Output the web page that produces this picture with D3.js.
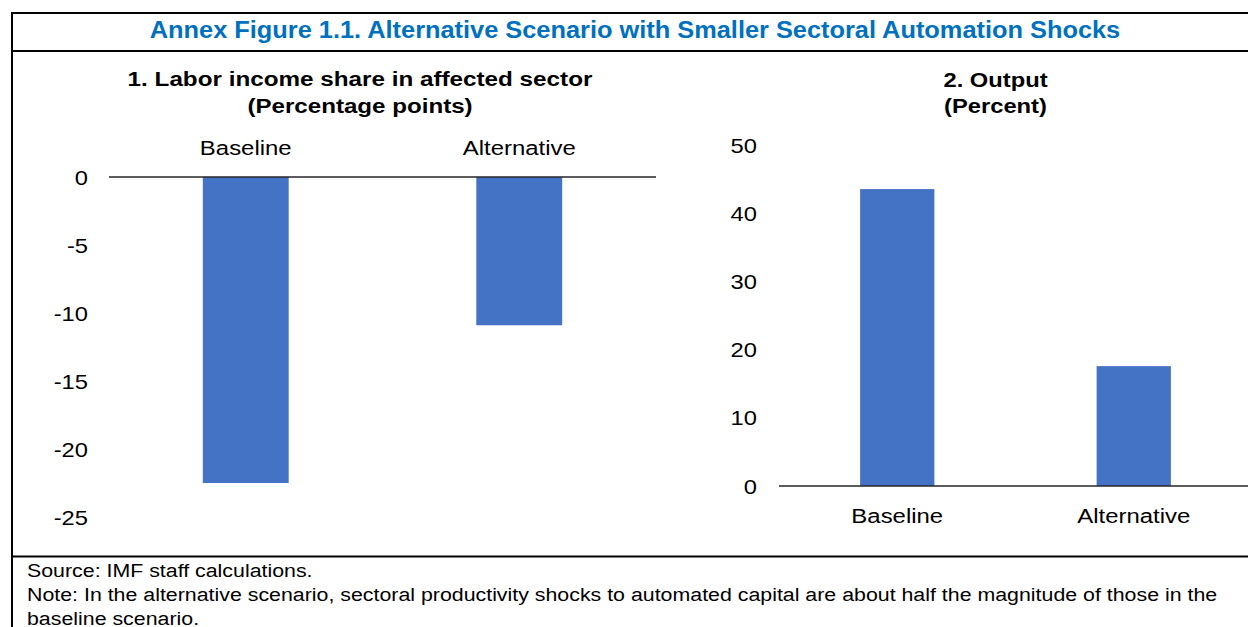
<!DOCTYPE html>
<html>
<head>
<meta charset="utf-8">
<script src="https://cdn.jsdelivr.net/npm/d3@7"></script>
<style>
  html, body { margin: 0; padding: 0; background: #fff; }
  svg { display: block; font-family: Arial, "Liberation Sans", sans-serif; }
</style>
</head>
<body>
<svg id="chart" width="1248" height="627"></svg>
<script>
// ---- data ----
const categories = ["Baseline", "Alternative"];
const laborShare = [-22.5, -10.9];       // percentage points
const output = [43.6, 17.6];             // percent
const laborTicks = [0, -5, -10, -15, -20, -25];
const outputTicks = [0, 10, 20, 30, 40, 50];

const title = "Annex Figure 1.1. Alternative Scenario with Smaller Sectoral Automation Shocks";
const panel1Title = ["1. Labor income share in affected sector", "(Percentage points)"];
const panel2Title = ["2. Output", "(Percent)"];
const notes = [
  "Source: IMF staff calculations.",
  "Note: In the alternative scenario, sectoral productivity shocks to automated capital are about half the magnitude of those in the",
  "baseline scenario."
];

// ---- style ----
const SX = 1.13;               // horizontal text stretch of the reference
const BAR = "#4472C4";
const TITLE_COLOR = "#0070C0";

const svg = d3.select("#chart");

function txt(x, y, s, size, opts = {}) {
  return svg.append("text")
    .attr("transform", `translate(${x},${y}) scale(${opts.sx || SX},1)`)
    .attr("text-anchor", opts.anchor || "middle")
    .attr("font-size", size)
    .attr("font-weight", opts.bold ? "bold" : "normal")
    .attr("fill", opts.color || "#000")
    .text(s);
}

// frame
svg.append("line").attr("x1", 12).attr("x2", 1248).attr("y1", 13).attr("y2", 13).attr("stroke", "#000").attr("stroke-width", 2);
svg.append("line").attr("x1", 12).attr("x2", 12).attr("y1", 12).attr("y2", 627).attr("stroke", "#000").attr("stroke-width", 2);
svg.append("line").attr("x1", 12).attr("x2", 1248).attr("y1", 51).attr("y2", 51).attr("stroke", "#000").attr("stroke-width", 2);
svg.append("line").attr("x1", 12).attr("x2", 1248).attr("y1", 556.5).attr("y2", 556.5).attr("stroke", "#000").attr("stroke-width", 2);

// title
txt(635, 37.5, title, 23, { bold: true, color: TITLE_COLOR, sx: 1.103 });

// panel titles
txt(360, 86, panel1Title[0], 21, { bold: true, sx: 1.155 });
txt(360, 113.3, panel1Title[1], 21, { bold: true, sx: 1.15 });
txt(995.5, 86.5, panel2Title[0], 21, { bold: true });
txt(995.5, 113.3, panel2Title[1], 21, { bold: true });

// notes
notes.forEach((n, i) => txt(27, 576.5 + i * 24, n, 18.8, { anchor: "start", sx: 1.136 }));

function panel(cfg) {
  const x = d3.scaleBand().domain(categories).range(cfg.xRange)
    .paddingInner(0.686).paddingOuter(0.343);
  const y = d3.scaleLinear().domain(cfg.yDomain).range(cfg.yRange);
  const g = svg.append("g");

  // y axis labels
  const ax = g.append("g").attr("transform", `translate(${cfg.xRange[0]},0)`)
    .call(d3.axisLeft(y).tickValues(cfg.ticks).tickSize(0).tickFormat(d3.format("d")));
  ax.select(".domain").remove();
  ax.selectAll("text")
    .attr("x", null).attr("dy", null)
    .attr("font-size", 21).attr("font-family", "Arial, 'Liberation Sans', sans-serif")
    .attr("fill", "#000").attr("text-anchor", "end")
    .attr("transform", `translate(${-cfg.gap},7) scale(${SX},1)`)
    .text(d => d3.format("d")(d).replace("\u2212", "-"));

  // bars
  g.selectAll("rect").data(cfg.values).join("rect")
    .attr("x", (d, i) => x(categories[i]))
    .attr("width", x.bandwidth())
    .attr("y", d => Math.min(y(0), y(d)))
    .attr("height", d => Math.abs(y(d) - y(0)))
    .attr("fill", BAR);

  // zero line
  g.append("line").attr("x1", cfg.xRange[0]).attr("x2", cfg.xRange[1])
    .attr("y1", y(0)).attr("y2", y(0)).attr("stroke", "#262626").attr("stroke-width", 1.6);

  // category labels
  categories.forEach(c => txt(x(c) + x.bandwidth() / 2, cfg.catY, c, 21, { sx: 1.14 }));
}

panel({
  values: laborShare, yDomain: [-25, 0], yRange: [517, 177], ticks: laborTicks,
  xRange: [109, 656], gap: 21, catY: 155
});
panel({
  values: output, yDomain: [0, 50], yRange: [486, 145.5], ticks: outputTicks,
  xRange: [779, 1252], gap: 22, catY: 522.7
});
</script>
</body>
</html>
